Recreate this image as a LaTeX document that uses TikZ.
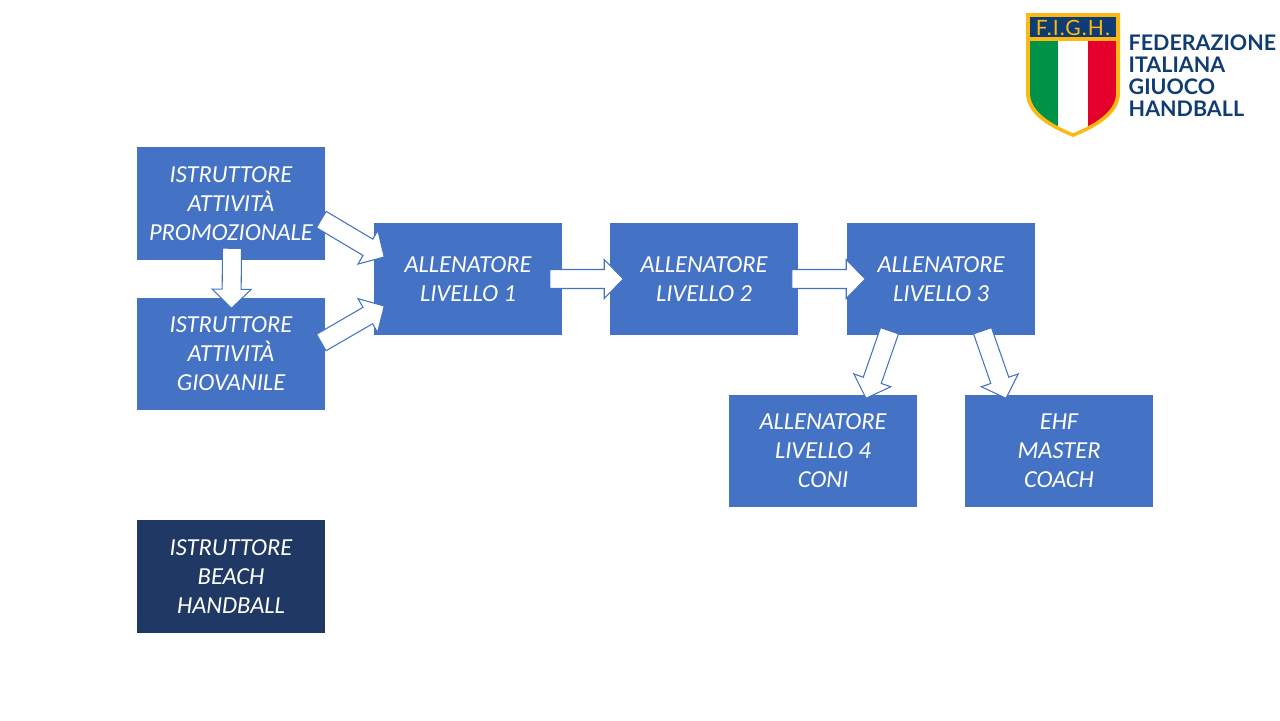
\documentclass[tikz,border=0pt]{standalone}
\usepackage{fontspec}
\setmainfont{Carlito}
\newfontfamily\logofont{Lato}
\usetikzlibrary{calc}
\definecolor{fighblue}{HTML}{4472C4}
\definecolor{fighdark}{HTML}{1F3864}
\definecolor{logoblue}{HTML}{0F3D73}
\definecolor{logogold}{HTML}{FDB913}
\definecolor{logogreen}{HTML}{009246}
\definecolor{logored}{HTML}{E4002B}
\newcommand{\fatshaft}{0.095cm}
\newcommand{\fathead}{0.195cm}
\newcommand{\fatlen}{0.19cm}
\tikzset{
  levelbox/.style={fill=fighblue, minimum width=1.88cm, minimum height=1.12cm, inner sep=0pt,
    align=center, text=white, font=\fontsize{6.95}{8.25}\selectfont\itshape},
  fatarrow/.style={fill=white, draw=fighblue, line width=0.3pt, line join=miter, to path={
    ($(\tikztostart)!\fatshaft!90:(\tikztotarget)$)
    -- ($(\tikztotarget)!\fatlen!(\tikztostart)!\fatshaft!90:(\tikztotarget)$)
    -- ($(\tikztotarget)!\fatlen!(\tikztostart)!\fathead!90:(\tikztotarget)$)
    -- (\tikztotarget)
    -- ($(\tikztotarget)!\fatlen!(\tikztostart)!\fathead!-90:(\tikztotarget)$)
    -- ($(\tikztotarget)!\fatlen!(\tikztostart)!\fatshaft!-90:(\tikztotarget)$)
    -- ($(\tikztostart)!\fatshaft!-90:(\tikztotarget)$) -- cycle}},
  logotext/.style={text=logoblue, align=left, anchor=west, inner sep=0pt,
    font=\logofont\fontsize{6.1}{6.25}\selectfont\bfseries}
}
\begin{document}
\begin{tikzpicture}[x=0.01cm, y=-0.01cm]
    \useasboundingbox (0,0) rectangle (1280,720);
    % boxes
    \node[levelbox] (promo) at (231,203.5) {ISTRUTTORE\\ATTIVITÀ\\PROMOZIONALE};
    \node[levelbox] (giovanile) at (231,354) {ISTRUTTORE\\ATTIVITÀ\\GIOVANILE};
    \node[levelbox] (liv1) at (468,279) {ALLENATORE\\LIVELLO 1};
    \node[levelbox] (liv2) at (704,279) {ALLENATORE\\LIVELLO 2};
    \node[levelbox] (liv3) at (941,279) {ALLENATORE\\LIVELLO 3};
    \node[levelbox] (liv4) at (823,451) {ALLENATORE\\LIVELLO 4\\CONI};
    \node[levelbox] (ehf) at (1059,451) {EHF\\MASTER\\COACH};
    \node[levelbox, fill=fighdark] (beach) at (231,576.5) {ISTRUTTORE\\BEACH\\HANDBALL};
    % block arrows
    \path[fatarrow] ([shift={(-4.5,16)}]promo.east) to ([shift={(11,-22)}]liv1.west);
    \path[fatarrow] ([shift={(-4.5,-11.5)}]giovanile.east) to ([shift={(11,27)}]liv1.west);
    \path[fatarrow] ([shift={(1,-12)}]promo.south) to ([shift={(0.5,11)}]giovanile.north);
    \path[fatarrow] ([shift={(-13,0)}]liv1.east) to ([shift={(14,0)}]liv2.west);
    \path[fatarrow] ([shift={(-7,0)}]liv2.east) to ([shift={(19,0)}]liv3.west);
    \path[fatarrow] ([shift={(-51.5,-5)}]liv3.south) to ([shift={(43,4)}]liv4.north);
    \path[fatarrow] ([shift={(41.5,-5)}]liv3.south) to ([shift={(-53,4)}]ehf.north);
    % logo
    \fill[logogold] (1026,13) -- (1120,13) -- (1120,93) .. controls (1120,115) and (1095,128) .. (1073,137)
      .. controls (1051,128) and (1026,115) .. (1026,93) -- cycle;
    \begin{scope}
      \clip (1030,41) -- (1116,41) -- (1116,93) .. controls (1116,112) and (1093,125) .. (1073,133)
        .. controls (1053,125) and (1030,112) .. (1030,93) -- cycle;
      \fill[logogreen] (1030,41) rectangle (1058,137);
      \fill[white] (1058,41) rectangle (1088,137);
      \fill[logored] (1088,41) rectangle (1116,137);
    \end{scope}
    \fill[logoblue] (1030,17) rectangle (1116,37);
    \node[text=logogold, inner sep=0pt, font=\logofont\fontsize{6}{6}\selectfont\addfontfeature{LetterSpace=5}] (fighname) at (1073,27.5) {F.I.G.H.};
    \node[logotext] (fighfull) at (1128,76) {FEDERAZIONE\\ITALIANA\\GIUOCO\\HANDBALL};
\end{tikzpicture}
\end{document}
